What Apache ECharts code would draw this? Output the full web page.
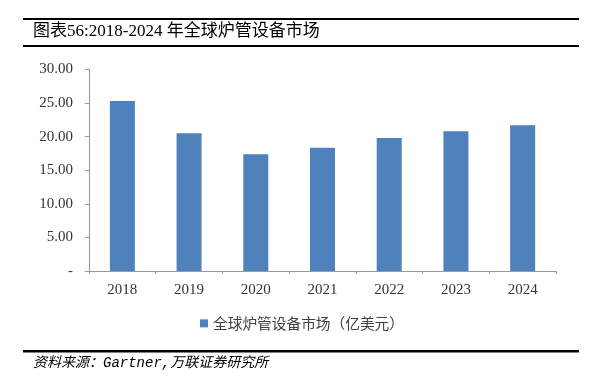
<!DOCTYPE html>
<html>
<head>
<meta charset="utf-8">
<script src="https://cdn.jsdelivr.net/npm/echarts@6/dist/echarts.min.js"></script>
<style>
html,body{margin:0;padding:0;background:#fff;}
#main{width:597px;height:391px;}
</style>
</head>
<body>
<div id="main"></div>
<script>
const categories = ['2018','2019','2020','2021','2022','2023','2024'];
const marketValues = [25.3, 20.5, 17.4, 18.35, 19.8, 20.8, 21.7];
const seriesName = '全球炉管设备市场（亿美元）';
const titleText = '图表56:2018-2024 年全球炉管设备市场';
const sourceText = '资料来源：Gartner,万联证券研究所';

const chart = echarts.init(document.getElementById('main'), null, {renderer:'canvas'});
const serif = '"Liberation Serif","Times New Roman","Noto Sans CJK SC",serif';
const cjk = '"Noto Sans CJK SC",sans-serif';
const mono = '"Liberation Mono","Noto Sans CJK SC",monospace';
chart.setOption({
  animation:false,
  backgroundColor:'#fff',
  grid:{left:89, right:41, top:69.5, bottom:120, containLabel:false},
  legend:{
    data:[seriesName], left:195, top:311, itemWidth:8, itemHeight:8, itemGap:4,
    icon:'rect',
    textStyle:{fontFamily:cjk, fontSize:14.7, color:'#404040'}
  },
  xAxis:{
    type:'category', data:categories,
    axisLine:{lineStyle:{color:'#999', width:1}},
    axisTick:{show:true, length:3, alignWithLabel:false, lineStyle:{color:'#999'}},
    axisLabel:{fontFamily:serif, fontSize:15, color:'#333', margin:12}
  },
  yAxis:{
    type:'value', min:0, max:30, interval:5,
    splitLine:{show:false},
    axisLine:{show:true, lineStyle:{color:'#999', width:1}},
    axisTick:{show:true, length:4, lineStyle:{color:'#999'}},
    axisLabel:{fontFamily:serif, fontSize:15, color:'#333', margin:16,
      formatter:v => v === 0 ? '-' : v.toFixed(2)}
  },
  series:[{
    name:seriesName, type:'bar', data:marketValues, barWidth:25,
    itemStyle:{color:'#4F81BD'}
  }],
  graphic:[
    {type:'rect', shape:{x:23,y:18,width:556,height:2}, style:{fill:'#000'}},
    {type:'rect', shape:{x:23,y:45,width:556,height:2}, style:{fill:'#000'}},
    {type:'rect', shape:{x:23,y:350,width:556,height:2.5}, style:{fill:'#000'}},
    {type:'text', left:33, top:23, style:{text:titleText, font:'17px '+serif, fill:'#000'}},
    {type:'text', left:33, top:356, style:{text:sourceText, font:'italic 14px '+mono, fill:'#000'}}
  ]
});
</script>
</body>
</html>
